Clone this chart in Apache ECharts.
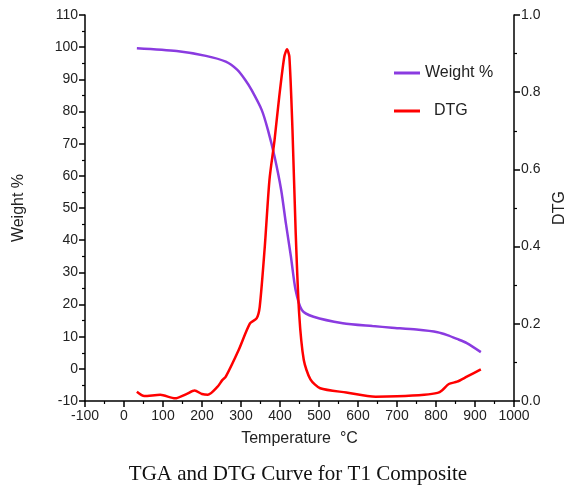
<!DOCTYPE html>
<html>
<head>
<meta charset="utf-8">
<script src="https://cdn.jsdelivr.net/npm/echarts@6/dist/echarts.min.js"></script>
<style>
  html, body { margin: 0; padding: 0; background: #fff; }
  #chart { width: 576px; height: 492px; }
</style>
</head>
<body>
<div id="chart"></div>
<script>
// TGA (weight %) and DTG curves
const weightPts = [
  [33, 99.7], [135, 98.8], [210, 97.3], [261, 95.5], [290, 93], [311, 89.8], [327, 86.7],
  [353, 80.5], [369, 74.3], [386, 66], [403, 55.6], [415, 45.3], [428, 34.9], [440, 24.5],
  [456, 18.3], [486, 16.2], [561, 14.2], [637, 13.3], [687, 12.8], [750, 12.2],
  [804, 11.4], [829, 10.5], [854, 9.3], [879, 8], [915, 5.2]
];
const dtgPts = [
  [33, 0.024], [52, 0.013], [93, 0.016], [131, 0.007], [160, 0.018], [181, 0.027],
  [200, 0.018], [215, 0.016], [240, 0.037], [252, 0.054], [261, 0.063], [294, 0.132],
  [323, 0.201], [340, 0.214], [348, 0.244], [361, 0.40], [373, 0.573], [386, 0.676],
  [398, 0.788], [411, 0.892], [418, 0.911], [424, 0.892], [432, 0.702], [440, 0.443],
  [449, 0.228], [461, 0.106], [478, 0.056], [503, 0.033], [570, 0.022], [645, 0.011],
  [700, 0.012], [770, 0.016], [804, 0.021], [816, 0.028], [833, 0.044], [854, 0.05],
  [879, 0.063], [915, 0.082]
];
const xTicks = { min: -100, max: 1000, step: 100 };
const leftTicks = { min: -10, max: 110, step: 10 };
const rightTicks = { min: 0, max: 1, step: 0.2 };

const FONT = "Liberation Sans";
const axisCommon = {
  axisLine: { show: true, onZero: false, lineStyle: { color: "#000", width: 1.5 } },
  axisTick: { show: true, inside: false, length: 6, lineStyle: { color: "#000", width: 1.5 } },
  minorTick: { show: true, splitNumber: 2, length: 3, lineStyle: { color: "#000", width: 1.2 } },
  splitLine: { show: false },
  axisLabel: { color: "#222", fontFamily: FONT, fontSize: 14 },
  nameTextStyle: { color: "#222", fontFamily: FONT, fontSize: 16 },
};

const chart = echarts.init(document.getElementById("chart"));
chart.setOption({
  animation: false,
  backgroundColor: "#fff",
  title: {
    text: "TGA and DTG Curve for T1 Composite",
    left: 293, top: 459, textAlign: "center",
    textStyle: { fontFamily: "Liberation Serif", fontWeight: "normal", fontSize: 21, color: "#111" },
  },
  grid: { left: 85, right: 51, top: 15, bottom: 91 },
  legend: {
    orient: "vertical", left: 389, top: 60, itemGap: 22,
    itemWidth: 26, itemHeight: 3, icon: "rect",
    textStyle: { fontFamily: FONT, fontSize: 16, color: "#222" },
    formatter: n => n === "DTG" ? "  DTG" : n,
    data: ["Weight %", "DTG"],
  },
  xAxis: {
    type: "value", min: xTicks.min, max: xTicks.max, interval: xTicks.step,
    name: "Temperature  °C", nameLocation: "middle", nameGap: 30,
    ...axisCommon,
    axisLabel: { ...axisCommon.axisLabel, margin: 8, formatter: v => String(v) },
  },
  yAxis: [
    {
      type: "value", min: leftTicks.min, max: leftTicks.max, interval: leftTicks.step,
      name: "Weight %", nameLocation: "middle", nameGap: 58, position: "left",
      ...axisCommon,
      axisLabel: { ...axisCommon.axisLabel, margin: 7 },
    },
    {
      type: "value", min: rightTicks.min, max: rightTicks.max, interval: rightTicks.step,
      name: "DTG", nameLocation: "middle", nameGap: 38, position: "right",
      ...axisCommon,
      axisLabel: { ...axisCommon.axisLabel, margin: 7, formatter: v => v.toFixed(1) },
    },
  ],
  series: [
    {
      name: "Weight %", type: "line", yAxisIndex: 0, data: weightPts,
      smooth: 0.25, showSymbol: false, symbol: "none",
      lineStyle: { color: "#8a3be0", width: 2.5 }, itemStyle: { color: "#8a3be0" },
    },
    {
      name: "DTG", type: "line", yAxisIndex: 1, data: dtgPts,
      smooth: 0.25, showSymbol: false, symbol: "none",
      lineStyle: { color: "#ff0000", width: 2.5 }, itemStyle: { color: "#ff0000" },
    },
  ],
});
</script>
</body>
</html>
